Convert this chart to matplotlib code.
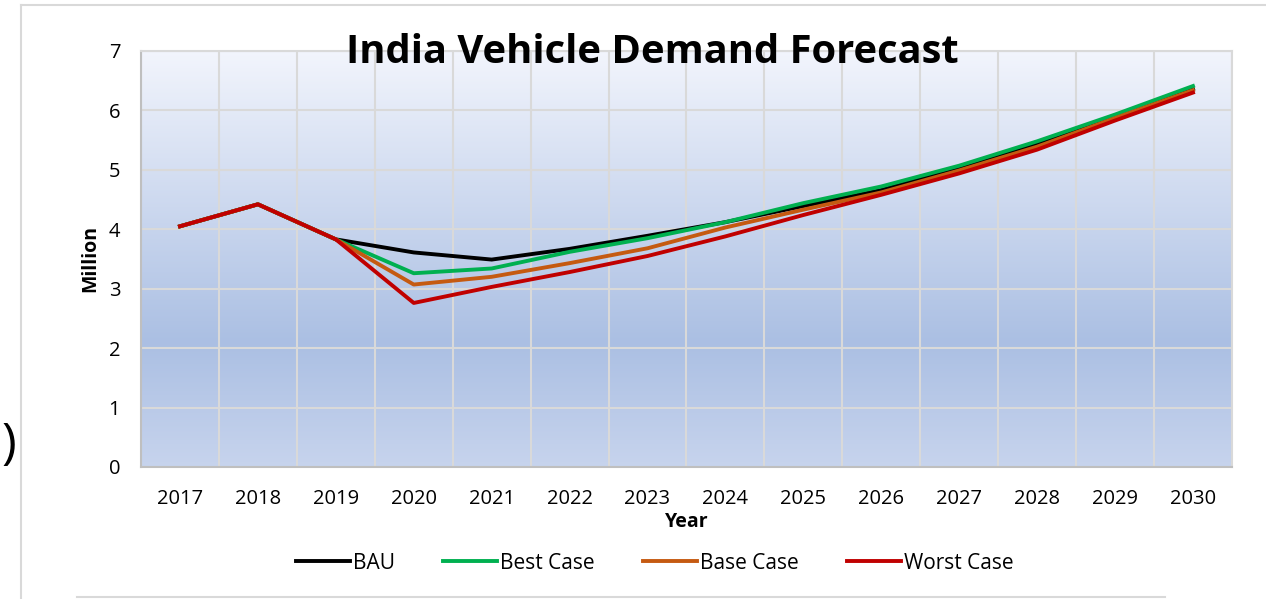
import numpy as np
import matplotlib
matplotlib.use("Agg")
import matplotlib.pyplot as plt
from matplotlib.lines import Line2D
from matplotlib.colors import LinearSegmentedColormap

years = ['2017', '2018', '2019', '2020', '2021', '2022', '2023', '2024',
         '2025', '2026', '2027', '2028', '2029', '2030']
bau = [4.05, 4.42, 3.83, 3.61, 3.49, 3.67, 3.89, 4.12, 4.39, 4.66, 5.03, 5.43, 5.89, 6.36]
best = [4.05, 4.42, 3.83, 3.26, 3.34, 3.62, 3.85, 4.12, 4.44, 4.72, 5.07, 5.48, 5.93, 6.41]
base = [4.05, 4.42, 3.83, 3.07, 3.20, 3.43, 3.68, 4.03, 4.33, 4.62, 4.99, 5.39, 5.87, 6.34]
worst = [4.05, 4.42, 3.83, 2.76, 3.03, 3.28, 3.55, 3.88, 4.24, 4.58, 4.94, 5.34, 5.83, 6.30]

series = ['BAU', 'Best Case', 'Base Case', 'Worst Case']
colors = ['#000000', '#00b050', '#c55a11', '#c00000']

plt.rcParams['font.family'] = ['Open Sans', 'DejaVu Sans']

fig = plt.figure(figsize=(12.66, 5.99), dpi=100)
ax = fig.add_axes([0.1114, 0.2204, 0.8617, 0.6945])

# gradient background like the Excel plot area
cmap = LinearSegmentedColormap.from_list('bg', [
    (0.0, (0.78, 0.83, 0.93)),
    (0.3, (0.67, 0.75, 0.89)),
    (1.0, (0.95, 0.96, 0.99))])
grad = np.linspace(0, 1, 256).reshape(-1, 1)
ax.imshow(grad, cmap=cmap, origin='lower', aspect='auto',
          extent=[0, 1, 0, 1], transform=ax.transAxes, zorder=0)

x = np.arange(len(years))
for vals, name, c in zip([bau, best, base, worst], series, colors):
    ax.plot(x, vals, color=c, lw=2.8, label=name, zorder=3)

ax.set_xlim(-0.5, len(years) - 0.5)
ax.set_ylim(0, 7)
ax.set_yticks(range(0, 8))
ax.set_xticks(x)
ax.set_xticklabels(years)
ax.set_xticks(np.arange(-0.5, len(years)), minor=True)
ax.grid(True, which='minor', axis='x', color='#d9d9d9', lw=1.5, zorder=1)
ax.grid(True, which='major', axis='y', color='#d9d9d9', lw=1.5, zorder=1)
ax.tick_params(axis='both', which='both', length=0, labelsize=14.5)
ax.tick_params(axis='x', pad=16)
ax.tick_params(axis='y', pad=15)

for s in ['top', 'right']:
    ax.spines[s].set_color('#d9d9d9')
    ax.spines[s].set_linewidth(1.5)
for s in ['left', 'bottom']:
    ax.spines[s].set_color('#bfbfbf')
    ax.spines[s].set_linewidth(1.5)

ax.set_xlabel('Year', fontsize=14, fontweight='bold', labelpad=2)
ax.set_ylabel('Million', fontsize=14, fontweight='bold', labelpad=6)

fig.text(0.515, 0.912, 'India Vehicle Demand Forecast', fontsize=28.7,
         fontweight='bold', ha='center', va='center')

fig.legend(loc='center', bbox_to_anchor=(0.517, 0.06), ncol=4, frameon=False,
           fontsize=15, handlelength=2.6, handletextpad=0.15, columnspacing=2.3)

# surrounding slide frame bits
fig.add_artist(Line2D([21 / 1266, 21 / 1266], [0, 1 - 5 / 599], color='#d9d9d9', lw=1.5,
                      transform=fig.transFigure))
fig.add_artist(Line2D([21 / 1266, 1], [1 - 5 / 599, 1 - 5 / 599], color='#d9d9d9', lw=1.5,
                      transform=fig.transFigure))
fig.add_artist(Line2D([77 / 1266, 1165 / 1266], [2 / 599, 2 / 599], color='#d9d9d9', lw=1.5,
                      transform=fig.transFigure))
fig.text(0.001, 1 - 445 / 599, ')', fontsize=36, ha='left', va='center')

fig.savefig('out.png', dpi=100)
